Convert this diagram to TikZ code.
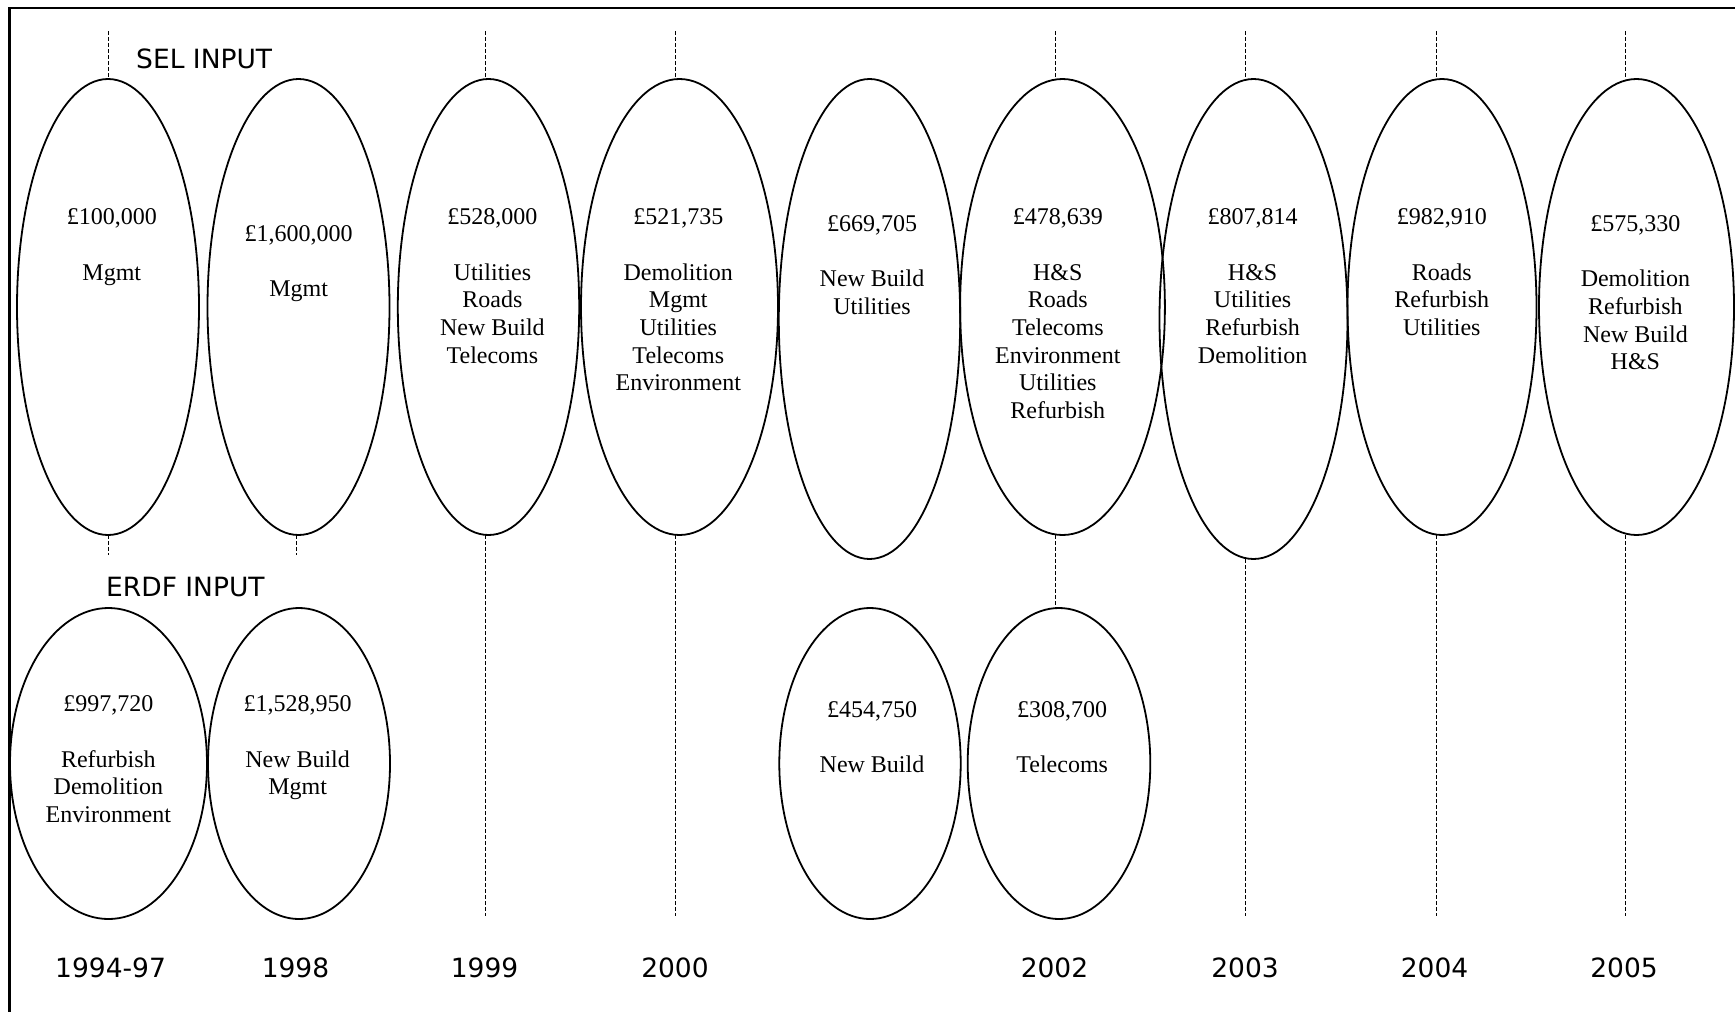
\documentclass[tikz,border=0pt]{standalone}
\usepackage{fontspec}
\setmainfont{Liberation Serif}
\newfontfamily\labelfont{DejaVu Sans}
\usetikzlibrary{shapes.geometric}
\begin{document}
\begin{tikzpicture}[x=1pt,y=-1pt,
  oval/.style n args={2}{draw, ellipse, line width=1.8pt, inner sep=0pt, outer sep=0pt, minimum width=#1, minimum height=#2},
  amt/.style={anchor=north, inner sep=0pt, align=center, font=\fontsize{24}{27.66}\selectfont},
  yr/.style={inner sep=0pt, font=\labelfont\fontsize{26.5}{30}\selectfont},
  dashline/.style={line width=0.9pt, dash pattern=on 4pt off 2pt}
]
\useasboundingbox (0,0) rectangle (1735,1012);
% frame (only top and left edges visible)
\draw[line width=2.8pt, line join=miter] (9.5,1020) -- (9.5,8) -- (1745,8);

% top row ellipses (SEL input)
\node[oval={182}{456}]   (e1) at (108,307) {};
\node[oval={182}{456}]   (e2) at (298.5,307) {};
\node[oval={181.4}{456}] (e3) at (488.5,307) {};
\node[oval={197}{456}]   (e4) at (679.5,307) {};
\node[oval={181.4}{480}] (e5) at (869.5,319) {};
\node[oval={204.8}{456}] (e6) at (1062.5,307) {};
\node[oval={188}{480}]   (e7) at (1253.5,319) {};
\node[oval={189}{456}]   (e8) at (1442,307) {};
\node[oval={195}{456}]   (e9) at (1636.5,307) {};

% bottom row ellipses (ERDF input)
\node[oval={197}{311}]   (ea) at (108.5,763.5) {};
\node[oval={182}{311}]   (eb) at (299,763.5) {};
\node[oval={181.4}{311}] (ec) at (870,763.5) {};
\node[oval={182.6}{311}] (ed) at (1059,763.5) {};

% texts
\node[amt] (t1) at (111.8,208.8) {£100,000\\[27.66pt]Mgmt};
\node[amt] (t2) at (298.7,225.4) {£1,600,000\\[27.66pt]Mgmt};
\node[amt] (t3) at (492.4,208.8) {£528,000\\[27.66pt]Utilities\\Roads\\New Build\\Telecoms};
\node[amt] (t4) at (678.3,208.8) {£521,735\\[27.66pt]Demolition\\Mgmt\\Utilities\\Telecoms\\Environment};
\node[amt] (t5) at (872,215.4) {£669,705\\[27.66pt]New Build\\Utilities};
\node[amt] (t6) at (1057.8,208.8) {£478,639\\[27.66pt]H\&S\\Roads\\Telecoms\\Environment\\Utilities\\Refurbish};
\node[amt] (t7) at (1252.6,208.8) {£807,814\\[27.66pt]H\&S\\Utilities\\Refurbish\\Demolition};
\node[amt] (t8) at (1441.8,208.8) {£982,910\\[27.66pt]Roads\\Refurbish\\Utilities};
\node[amt] (t9) at (1635.4,215.4) {£575,330\\[27.66pt]Demolition\\Refurbish\\New Build\\H\&S};
\node[amt] (ta) at (108.4,695.6) {£997,720\\[27.66pt]Refurbish\\Demolition\\Environment};
\node[amt] (tb) at (297.6,695.6) {£1,528,950\\[27.66pt]New Build\\Mgmt};
\node[amt] (tc) at (872,701.2) {£454,750\\[27.66pt]New Build};
\node[amt] (td) at (1062.2,701.2) {£308,700\\[27.66pt]Telecoms};

% section labels
\node[yr, anchor=west] (sel) at (136,58.6) {SEL INPUT};
\node[yr, anchor=west] (erdf) at (106,587) {ERDF INPUT};

% year labels
\node[yr] (y1) at (110.6,968) {1994-97};
\node[yr] (y2) at (295.5,968) {1998};
\node[yr] (y3) at (484.6,968) {1999};
\node[yr] (y4) at (675,968) {2000};
\node[yr] (y6) at (1054.5,968) {2002};
\node[yr] (y7) at (1245,968) {2003};
\node[yr] (y8) at (1434.5,968) {2004};
\node[yr] (y9) at (1624,968) {2005};

% dashed guide lines: top ends
\coordinate (a1) at (108,31);
\coordinate (a3) at (485,31);
\coordinate (a4) at (675.5,31);
\coordinate (a6) at (1055,31);
\coordinate (a7) at (1245,31);
\coordinate (a8) at (1436,31);
\coordinate (a9) at (1625,31);
% bottom ends
\coordinate (b1) at (108,555);
\coordinate (b2) at (296,555);
\coordinate (b3) at (485,916);
\coordinate (b4) at (675.5,916);
\coordinate (b7) at (1245,916);
\coordinate (b8) at (1436,916);
\coordinate (b9) at (1625,916);

\draw[dashline] (a1) -- (a1 |- e1.north);
\draw[dashline] (a3) -- (a3 |- e3.north);
\draw[dashline] (a4) -- (a4 |- e4.north);
\draw[dashline] (a6) -- (a6 |- e6.north);
\draw[dashline] (a7) -- (a7 |- e7.north);
\draw[dashline] (a8) -- (a8 |- e8.north);
\draw[dashline] (a9) -- (a9 |- e9.north);

\draw[dashline] (b1 |- e1.south) -- (b1);
\draw[dashline] (b2 |- e2.south) -- (b2);
\draw[dashline] (b3 |- e3.south) -- (b3);
\draw[dashline] (b4 |- e4.south) -- (b4);
\draw[dashline] (a6 |- e6.south) -- (a6 |- ed.north);
\draw[dashline] (b7 |- e7.south) -- (b7);
\draw[dashline] (b8 |- e8.south) -- (b8);
\draw[dashline] (b9 |- e9.south) -- (b9);
\end{tikzpicture}
\end{document}
